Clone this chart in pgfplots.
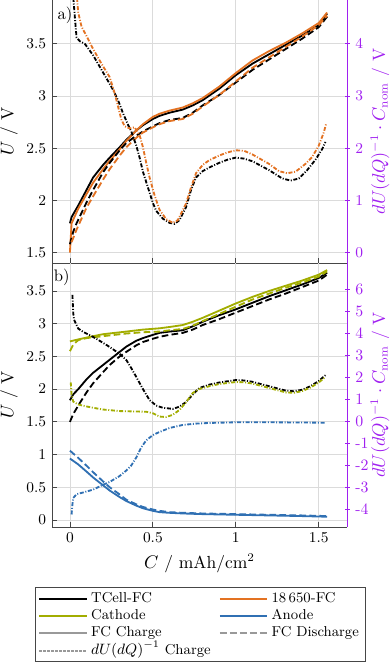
\documentclass[border=0pt]{standalone}
\usepackage{pgfplots}
\pgfplotsset{compat=1.18}
\definecolor{tumorange}{RGB}{227,114,34}
\definecolor{tumgreen}{RGB}{162,173,0}
\definecolor{tumblue}{RGB}{48,112,179}
\definecolor{viol}{RGB}{160,32,240}
\definecolor{axgray}{RGB}{70,70,70}
\tikzset{
  chg/.style={line width=1.1pt},
  dchg/.style={line width=1.1pt, dash pattern=on 4pt off 2pt},
  dudq/.style={line width=1.1pt, dash pattern=on 2.4pt off 1pt on 0.6pt off 1pt},
}
\pgfplotsset{
  base/.style={scale only axis, width=177pt, xmin=-0.108, xmax=1.67,
    xtick={0,0.5,1,1.5}, clip mode=individual, major tick length=3pt,
    tick label style={font=\fontsize{9.5}{11}\selectfont},
    label style={font=\fontsize{10.5}{12}\selectfont},
    every outer x axis line/.append style={-},
    every outer y axis line/.append style={-}},
  leftax/.style={base, axis x line*=bottom, axis y line*=left,
    grid=major, grid style={black!14, line width=0.5pt},
    axis line style={axgray, line width=0.6pt, -},
    every tick/.style={axgray, line width=0.5pt},
    ylabel={$U$ / V},
    ylabel style={at={(axis description cs:-0.146,0.5)}, anchor=center}},
  rightax/.style={base, axis x line=none, axis y line*=right,
    axis line style={viol, line width=0.6pt, -},
    y tick label style={text=viol}, tick align=center,
    every tick/.style={viol, line width=0.5pt},
    ylabel={$dU(dQ)^{-1}\cdot C_\mathrm{nom}$ / V},
    ylabel style={text=viol, at={(axis description cs:1.112,0.5)}, anchor=center}},
}
\begin{document}
\begin{tikzpicture}
\path[use as bounding box] (0pt,0pt) rectangle (235.2pt,-399.6pt);
% ---------------- top panel ----------------
\begin{axis}[leftax, at={(31.2pt,0pt)}, anchor=north west, height=157.8pt,
  ymin=1.40, ymax=3.92, ytick={1.5,2,2.5,3,3.5}, xticklabels={}]
\addplot[chg, black, forget plot] coordinates {(0,1.78) (0.01,1.84) (0.05,1.95) (0.1,2.10) (0.14,2.22) (0.2,2.34) (0.24,2.41) (0.3,2.51) (0.34,2.58) (0.4,2.67) (0.44,2.72) (0.5,2.78) (0.54,2.81) (0.6,2.84) (0.68,2.87) (0.74,2.91) (0.8,2.96) (0.9,3.07) (1.0,3.20) (1.1,3.31) (1.2,3.40) (1.3,3.49) (1.4,3.58) (1.5,3.68) (1.55,3.79)};
\addplot[chg, tumorange, forget plot] coordinates {(0,1.50) (0.01,1.78) (0.05,1.92) (0.1,2.06) (0.14,2.17) (0.2,2.30) (0.24,2.38) (0.3,2.49) (0.34,2.57) (0.4,2.67) (0.44,2.73) (0.5,2.80) (0.54,2.83) (0.6,2.86) (0.68,2.89) (0.74,2.93) (0.8,2.98) (0.9,3.09) (1.0,3.22) (1.1,3.34) (1.2,3.43) (1.3,3.51) (1.4,3.60) (1.5,3.70) (1.55,3.80)};
\addplot[dchg, black, forget plot] coordinates {(0,1.58) (0.02,1.70) (0.04,1.78) (0.1,1.98) (0.14,2.10) (0.2,2.27) (0.24,2.36) (0.3,2.48) (0.34,2.55) (0.4,2.62) (0.44,2.66) (0.5,2.71) (0.54,2.74) (0.6,2.77) (0.68,2.79) (0.74,2.84) (0.8,2.91) (0.9,3.01) (1.0,3.13) (1.1,3.25) (1.2,3.35) (1.3,3.45) (1.4,3.55) (1.5,3.66) (1.55,3.76)};
\addplot[dchg, tumorange, forget plot] coordinates {(0.01,1.60) (0.04,1.72) (0.1,1.93) (0.14,2.04) (0.2,2.20) (0.24,2.30) (0.3,2.43) (0.34,2.51) (0.4,2.60) (0.44,2.65) (0.5,2.70) (0.54,2.73) (0.6,2.76) (0.68,2.78) (0.74,2.83) (0.8,2.90) (0.9,3.01) (1.0,3.14) (1.1,3.27) (1.2,3.37) (1.3,3.47) (1.4,3.57) (1.5,3.68) (1.55,3.77)};
\node[anchor=west, inner sep=0pt] at (rel axis cs:0.018,0.943) {a)};
\end{axis}
\begin{axis}[rightax, at={(31.2pt,0pt)}, anchor=north west, height=157.8pt,
  ymin=-0.2, ymax=4.84, ytick={0,1,2,3,4}]
\addplot[dudq, black] coordinates {(0.015,5.2) (0.02,4.9) (0.03,4.5) (0.04,4.12) (0.06,4.05) (0.09,4.0) (0.14,3.78) (0.18,3.56) (0.22,3.34) (0.26,3.12) (0.29,2.92) (0.32,2.67) (0.35,2.45) (0.37,2.32) (0.40,2.05) (0.42,1.82) (0.44,1.55) (0.47,1.25) (0.50,0.95) (0.52,0.80) (0.56,0.65) (0.60,0.57) (0.63,0.55) (0.66,0.62) (0.70,0.87) (0.73,1.20) (0.76,1.44) (0.80,1.56) (0.84,1.63) (0.9,1.72) (0.95,1.78) (1.0,1.82) (1.05,1.80) (1.1,1.75) (1.2,1.58) (1.28,1.42) (1.33,1.38) (1.38,1.42) (1.43,1.58) (1.48,1.78) (1.52,1.98) (1.54,2.12)};
\addplot[dudq, tumorange] coordinates {(0.035,5.2) (0.05,4.6) (0.07,4.33) (0.1,4.15) (0.14,3.90) (0.19,3.62) (0.24,3.36) (0.27,3.05) (0.29,2.80) (0.31,2.55) (0.33,2.42) (0.36,2.38) (0.39,2.40) (0.42,2.25) (0.44,2.02) (0.46,1.72) (0.48,1.44) (0.51,1.10) (0.54,0.82) (0.58,0.64) (0.62,0.57) (0.65,0.62) (0.70,0.94) (0.73,1.25) (0.76,1.52) (0.80,1.68) (0.84,1.77) (0.9,1.86) (0.95,1.92) (1.0,1.96) (1.05,1.95) (1.1,1.88) (1.2,1.70) (1.26,1.56) (1.31,1.52) (1.36,1.55) (1.42,1.70) (1.46,1.83) (1.50,2.05) (1.53,2.30) (1.545,2.48)};
\end{axis}
% ---------------- bottom panel ----------------
\begin{axis}[leftax, at={(31.2pt,-157.8pt)}, anchor=north west, height=158.4pt,
  ymin=-0.107, ymax=3.928, ytick={0,0.5,1,1.5,2,2.5,3,3.5},
  xlabel={$C$ / mAh/cm$^2$},
  legend columns=2, legend cell align=left,
  legend image code/.code={\draw[#1] (0cm,0cm) -- (1.0cm,0cm);},
  legend style={at={(0.503,-0.227)}, anchor=north, draw=axgray, line width=0.6pt,
    font=\fontsize{8.6}{10}\selectfont, row sep=0pt, inner xsep=2pt, inner ysep=1.5pt,
    nodes={text height=6pt, text depth=1.6pt, inner ysep=1.4pt, inner xsep=2pt},
    /tikz/every even column/.append style={column sep=3pt}}]
\addlegendimage{black, line width=1.1pt}\addlegendentry{TCell-FC}
\addlegendimage{tumorange, line width=1.1pt}\addlegendentry{18\,650-FC}
\addlegendimage{tumgreen, line width=1.1pt}\addlegendentry{Cathode}
\addlegendimage{tumblue, line width=1.1pt}\addlegendentry{Anode}
\addlegendimage{black!40, line width=1.1pt}\addlegendentry{FC Charge}
\addlegendimage{black!40, dchg}\addlegendentry{FC Discharge}
\addlegendimage{black!40, line width=1.1pt, dash pattern=on 1.6pt off 0.8pt}\addlegendentry{$dU(dQ)^{-1}$ Charge}
\addplot[chg, black, forget plot] coordinates {(0,1.83) (0.02,1.92) (0.05,2.0) (0.1,2.15) (0.14,2.25) (0.2,2.37) (0.24,2.45) (0.3,2.57) (0.34,2.65) (0.4,2.74) (0.44,2.78) (0.5,2.83) (0.54,2.86) (0.6,2.88) (0.68,2.90) (0.74,2.96) (0.8,3.03) (0.9,3.13) (1.0,3.22) (1.1,3.32) (1.2,3.42) (1.3,3.51) (1.4,3.60) (1.5,3.70) (1.55,3.78)};
\addplot[dchg, black, forget plot] coordinates {(0,1.50) (0.02,1.62) (0.06,1.79) (0.1,1.95) (0.14,2.09) (0.2,2.26) (0.24,2.37) (0.3,2.50) (0.34,2.57) (0.4,2.67) (0.44,2.72) (0.5,2.77) (0.54,2.80) (0.6,2.83) (0.68,2.86) (0.74,2.91) (0.8,2.98) (0.9,3.07) (1.0,3.17) (1.1,3.27) (1.2,3.37) (1.3,3.46) (1.4,3.56) (1.5,3.66) (1.55,3.75)};
\addplot[chg, tumgreen, forget plot] coordinates {(0,2.73) (0.05,2.76) (0.14,2.81) (0.2,2.84) (0.34,2.88) (0.44,2.91) (0.54,2.93) (0.6,2.95) (0.68,2.98) (0.74,3.03) (0.8,3.09) (0.9,3.20) (1.0,3.31) (1.1,3.41) (1.2,3.50) (1.3,3.58) (1.4,3.66) (1.5,3.75) (1.55,3.82)};
\addplot[dchg, tumgreen, forget plot] coordinates {(0,2.58) (0.02,2.68) (0.05,2.75) (0.1,2.78) (0.2,2.81) (0.34,2.85) (0.44,2.87) (0.54,2.88) (0.6,2.90) (0.68,2.92) (0.74,2.97) (0.8,3.04) (0.9,3.15) (1.0,3.26) (1.1,3.37) (1.2,3.46) (1.3,3.55) (1.4,3.63) (1.5,3.72) (1.55,3.80)};
\addplot[chg, tumblue, forget plot] coordinates {(0,0.94) (0.05,0.85) (0.1,0.74) (0.14,0.65) (0.2,0.53) (0.24,0.45) (0.3,0.35) (0.34,0.29) (0.4,0.22) (0.44,0.18) (0.5,0.14) (0.54,0.12) (0.6,0.11) (0.68,0.10) (0.8,0.09) (1.0,0.08) (1.2,0.07) (1.4,0.06) (1.55,0.05)};
\addplot[dchg, tumblue, forget plot] coordinates {(0,1.06) (0.05,0.95) (0.1,0.83) (0.14,0.73) (0.2,0.59) (0.24,0.50) (0.3,0.39) (0.34,0.31) (0.4,0.24) (0.44,0.20) (0.5,0.16) (0.54,0.14) (0.6,0.12) (0.68,0.11) (0.8,0.10) (1.0,0.09) (1.2,0.08) (1.4,0.07) (1.55,0.06)};
\node[anchor=west, inner sep=0pt] at (rel axis cs:0.005,0.947) {b)};
\end{axis}
\begin{axis}[rightax, at={(31.2pt,-157.8pt)}, anchor=north west, height=158.4pt,
  ymin=-4.82, ymax=7.18, ytick={-4,-3,-2,-1,0,1,2,3,4,5,6},
  yticklabels={-4,-3,-2,-1,0,1,2,3,4,5,6}]
\addplot[dudq, black] coordinates {(0.015,5.73) (0.02,4.9) (0.025,4.6) (0.05,4.2) (0.08,4.05) (0.14,3.82) (0.2,3.55) (0.24,3.36) (0.3,3.05) (0.34,2.77) (0.37,2.40) (0.40,2.0) (0.44,1.45) (0.48,0.95) (0.52,0.70) (0.56,0.60) (0.62,0.55) (0.66,0.65) (0.70,0.86) (0.74,1.20) (0.78,1.50) (0.84,1.65) (0.9,1.75) (1.0,1.86) (1.05,1.84) (1.1,1.78) (1.2,1.58) (1.3,1.38) (1.35,1.35) (1.4,1.42) (1.45,1.58) (1.5,1.82) (1.54,2.08)};
\addplot[dudq, tumgreen] coordinates {(0.005,1.75) (0.01,1.2) (0.02,0.88) (0.05,0.75) (0.1,0.66) (0.14,0.60) (0.2,0.52) (0.3,0.45) (0.4,0.43) (0.46,0.42) (0.5,0.35) (0.54,0.20) (0.58,0.18) (0.62,0.28) (0.66,0.50) (0.70,0.85) (0.74,1.27) (0.78,1.45) (0.84,1.58) (0.9,1.68) (1.0,1.77) (1.05,1.76) (1.1,1.70) (1.2,1.50) (1.3,1.30) (1.35,1.28) (1.4,1.36) (1.45,1.52) (1.5,1.75) (1.54,2.0)};
\addplot[dudq, tumblue] coordinates {(0.01,-4.25) (0.015,-3.8) (0.02,-3.5) (0.04,-3.33) (0.08,-3.25) (0.14,-3.12) (0.2,-2.90) (0.24,-2.77) (0.3,-2.50) (0.34,-2.25) (0.37,-2.02) (0.40,-1.66) (0.43,-1.20) (0.46,-0.88) (0.5,-0.64) (0.54,-0.50) (0.6,-0.32) (0.68,-0.18) (0.76,-0.12) (0.84,-0.09) (1.0,-0.06) (1.2,-0.06) (1.4,-0.07) (1.54,-0.08)};
\end{axis}
\end{tikzpicture}
\end{document}
